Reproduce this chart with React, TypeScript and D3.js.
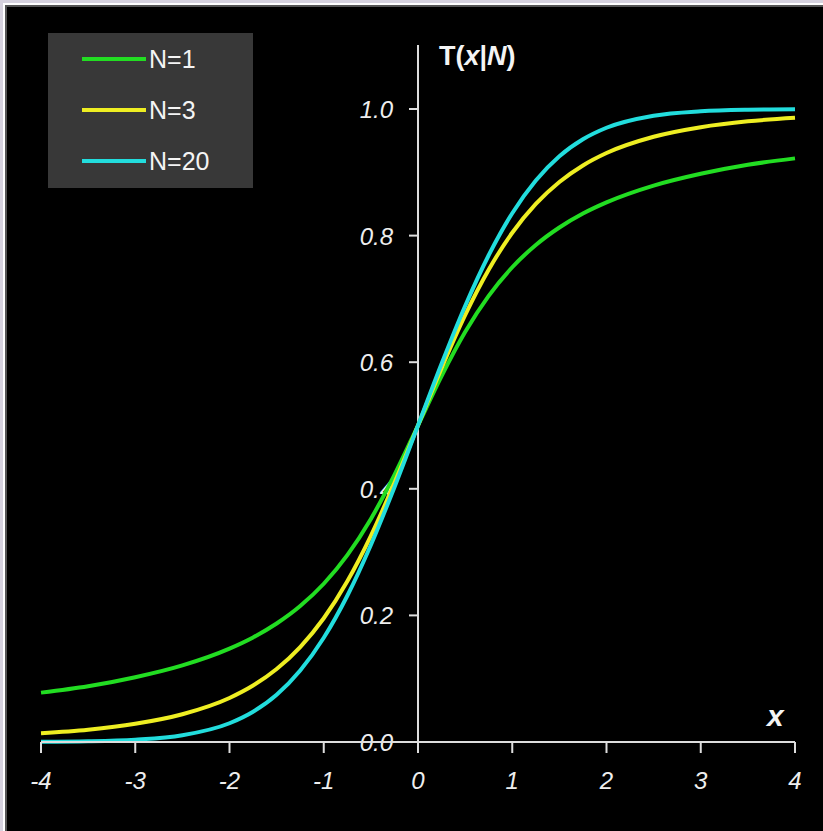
import React from "react";
import * as d3 from "d3";

const xs = [-4, -3.5, -3, -2.5, -2, -1.75, -1.5, -1.25, -1, -0.75, -0.5, -0.25, 0, 0.25, 0.5, 0.75, 1, 1.25, 1.5, 1.75, 2, 2.5, 3, 3.5, 4];
const n1 = [0.078, 0.0881, 0.1024, 0.1211, 0.1476, 0.1652, 0.1872, 0.2148, 0.25, 0.2952, 0.3524, 0.422, 0.5, 0.578, 0.6476, 0.7048, 0.75, 0.7852, 0.8128, 0.8348, 0.8524, 0.8789, 0.8976, 0.9119, 0.922];
const n3 = [0.014, 0.0195, 0.0288, 0.0439, 0.0696, 0.0892, 0.1153, 0.15, 0.1955, 0.2539, 0.3257, 0.4094, 0.5, 0.5906, 0.6743, 0.7461, 0.8045, 0.85, 0.8847, 0.9108, 0.9304, 0.9561, 0.9712, 0.9805, 0.986];
const n20 = [0.00035, 0.0011, 0.0036, 0.0106, 0.0296, 0.0478, 0.0746, 0.1129, 0.1646, 0.231, 0.3113, 0.4026, 0.5, 0.5974, 0.6887, 0.769, 0.8354, 0.8871, 0.9254, 0.9522, 0.9704, 0.9894, 0.9964, 0.9989, 0.99965];
const seriesNames = ["N=1", "N=3", "N=20"];
const seriesColors = ["#22dd22", "#eeee22", "#22dddd"];
const xTicks = [-4, -3, -2, -1, 0, 1, 2, 3, 4];
const yTicks = [0, 0.2, 0.4, 0.6, 0.8, 1.0];

export default function App() {
  const W = 823, H = 831;
  const x = d3.scaleLinear().domain([-4, 4]).range([41, 795]);
  const y = d3.scaleLinear().domain([0, 1]).range([742, 109]);
  const line = d3.line<[number, number]>().x(d => x(d[0])).y(d => y(d[1])).curve(d3.curveMonotoneX);
  const series = [n1, n3, n20];
  const axisColor = "#dddddd";
  const font = "'Liberation Sans', Arial, sans-serif";
  return (
    <svg width={W} height={H} style={{ position: "absolute", left: 0, top: 0 }} fontFamily={font}>
      <rect x={0} y={0} width={W} height={H} fill="#d6d2de" />
      <rect x={3} y={3} width={W} height={H} fill="#ffffff" />
      <rect x={5} y={5} width={W} height={H} fill="#555555" />
      <rect x={7} y={7} width={W} height={H} fill="#000000" />

      {/* legend */}
      <rect x={48} y={33} width={205} height={155} fill="#383838" />
      {seriesNames.map((name, i) => (
        <g key={name}>
          <line x1={82} x2={146} y1={59 + i * 51} y2={59 + i * 51} stroke={seriesColors[i]} strokeWidth={4} />
          <text x={149} y={59 + i * 51 + 9} fill="#f4f4f4" fontSize={25}>{name}</text>
        </g>
      ))}

      {/* y axis */}
      <line x1={x(0)} x2={x(0)} y1={45} y2={y(0)} stroke={axisColor} strokeWidth={2} />
      {yTicks.map(t => (
        <g key={t}>
          <line x1={x(0) - 9} x2={x(0)} y1={y(t)} y2={y(t)} stroke={axisColor} strokeWidth={2} />
          <text x={393} y={y(t) + 9} fill="#eeeeee" fontSize={24} fontStyle="italic" textAnchor="end">{d3.format(".1f")(t)}</text>
        </g>
      ))}

      {/* curves */}
      {series.map((vals, i) => (
        <path key={i} d={line(xs.map((v, j) => [v, vals[j]]) as [number, number][]) || ""} fill="none" stroke={seriesColors[i]} strokeWidth={4} />
      ))}

      {/* x axis */}
      <line x1={x(-4)} x2={x(4)} y1={y(0)} y2={y(0)} stroke={axisColor} strokeWidth={2} />
      {xTicks.map(t => (
        <g key={t}>
          <line x1={x(t)} x2={x(t)} y1={y(0)} y2={y(0) + 11} stroke={axisColor} strokeWidth={2} />
          <text x={x(t)} y={789} fill="#eeeeee" fontSize={24} fontStyle="italic" textAnchor="middle">{t}</text>
        </g>
      ))}

      <text x={439} y={65} fill="#f4f4f4" fontSize={27} fontWeight="bold">
        T(<tspan fontStyle="italic">x</tspan>|<tspan fontStyle="italic">N</tspan>)
      </text>
      <text x={767} y={726} fill="#f4f4f4" fontSize={30} fontWeight="bold" fontStyle="italic">x</text>
    </svg>
  );
}
